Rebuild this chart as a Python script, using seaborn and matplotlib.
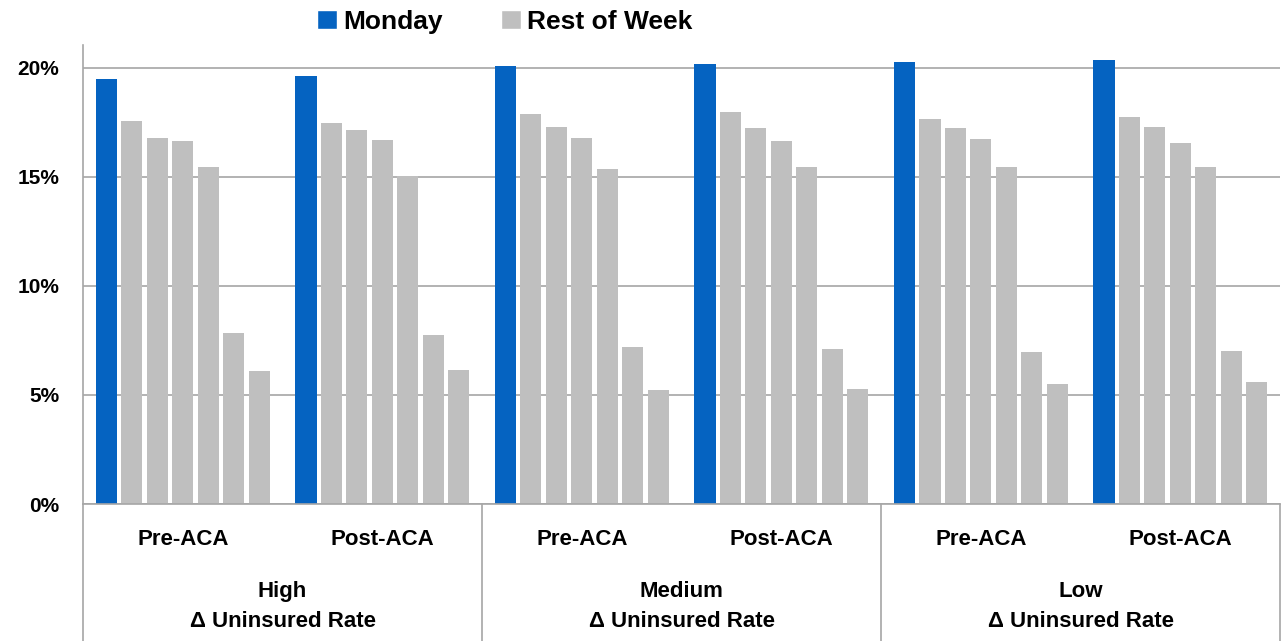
import matplotlib
matplotlib.use("Agg")
import matplotlib.pyplot as plt
import matplotlib.transforms as mtransforms
from matplotlib.patches import Patch
from matplotlib.lines import Line2D
import seaborn as sns
import pandas as pd

sns.set_theme(style="white")
plt.rcParams['font.family'] = ['Liberation Sans', 'DejaVu Sans']
plt.rcParams['text.color'] = 'black'
plt.rcParams['ytick.color'] = 'black'

groups = ["High Pre-ACA", "High Post-ACA", "Medium Pre-ACA", "Medium Post-ACA", "Low Pre-ACA", "Low Post-ACA"]
days = ["Monday", "Tuesday", "Wednesday", "Thursday", "Friday", "Saturday", "Sunday"]
high_pre = [19.5, 17.57, 16.8, 16.62, 15.44, 7.86, 6.1]
high_post = [19.63, 17.45, 17.16, 16.7, 15.05, 7.75, 6.16]
medium_pre = [20.09, 17.86, 17.28, 16.8, 15.34, 7.22, 5.22]
medium_post = [20.17, 17.98, 17.22, 16.62, 15.46, 7.1, 5.28]
low_pre = [20.28, 17.67, 17.22, 16.74, 15.44, 6.97, 5.52]
low_post = [20.34, 17.74, 17.28, 16.56, 15.44, 7.03, 5.58]
period_labels = ["Pre-ACA", "Post-ACA"]
level_labels = ["High\nΔ Uninsured Rate", "Medium\nΔ Uninsured Rate", "Low\nΔ Uninsured Rate"]
yticks = [0, 5, 10, 15, 20]
ytick_labels = ["0%", "5%", "10%", "15%", "20%"]

series = [high_pre, high_post, medium_pre, medium_post, low_pre, low_post]
rows = []
for g, vals in zip(groups, series):
    for d, v in zip(days, vals):
        rows.append({"group": g, "day": d, "value": v})
df = pd.DataFrame(rows)

blue = "#0563C1"
gray = "#BFBFBF"
palette = [blue] + [gray] * 6

fig = plt.figure(figsize=(12.81, 6.41), dpi=100)
ax = fig.add_axes([0.0648, 0.2137, 0.9345, 0.7163])

sns.barplot(data=df, x="group", y="value", hue="day", order=groups, hue_order=days,
            palette=palette, width=0.8925, gap=0.17, legend=False, ax=ax,
            saturation=1, edgecolor="none")

ax.set_xlim(-0.5, 5.5)
ax.set_ylim(0, 21.05)
ax.set_yticks(yticks)
ax.set_yticklabels(ytick_labels, fontsize=15, fontweight="bold", color="black")
ax.set_xticks([])
ax.set_xlabel("")
ax.set_ylabel("")
ax.yaxis.grid(True, color="#A6A6A6", linewidth=1.2)
ax.set_axisbelow(True)
for s in ["top", "right"]:
    ax.spines[s].set_visible(False)
ax.spines["left"].set_color("#A6A6A6")
ax.spines["bottom"].set_color("#A6A6A6")
ax.spines["left"].set_linewidth(1.2)
ax.spines["bottom"].set_linewidth(1.2)
ax.tick_params(axis="y", length=0, pad=17)

trans = mtransforms.blended_transform_factory(ax.transData, ax.transAxes)
for i in range(6):
    ax.text(i, -0.078, period_labels[i % 2], transform=trans, ha="center", va="center",
            fontsize=16, fontweight="bold", color="black")
for k, lab in enumerate(level_labels):
    ax.text(2 * k + 0.5, -0.224, lab, transform=trans, ha="center", va="center",
            fontsize=16, fontweight="bold", color="black", linespacing=1.55)
for xs in [-0.5, 1.5, 3.5, 5.5]:
    ax.add_line(Line2D([xs, xs], [0, -0.3], transform=trans, color="#A6A6A6",
                       linewidth=1.2, clip_on=False))

handles = [Patch(facecolor=blue, label="Monday"), Patch(facecolor=gray, label="Rest of Week")]
leg = fig.legend(handles=handles, loc="center", bbox_to_anchor=(0.394, 0.966), ncol=2,
                 frameon=False, prop={"size": 19, "weight": "bold"}, handlelength=0.75,
                 handleheight=0.75, handletextpad=0.25, columnspacing=2.2)
for t in leg.get_texts():
    t.set_color("black")

fig.savefig("out.png", dpi=100)
